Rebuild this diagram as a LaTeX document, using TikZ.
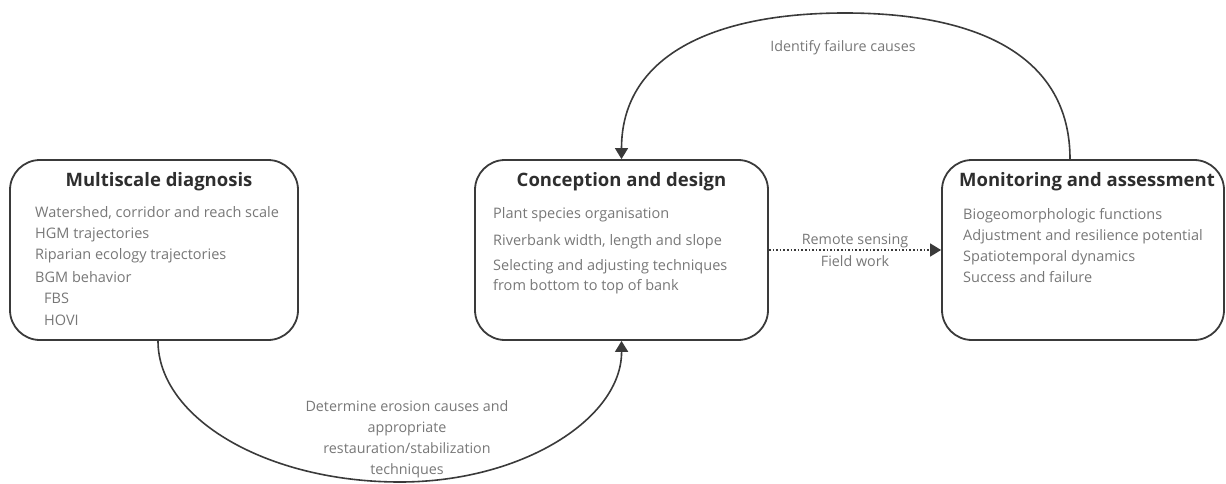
\documentclass[tikz,border=0pt]{standalone}
\usepackage{fontspec}
\setmainfont{Open Sans}
\usetikzlibrary{arrows.meta}
\usetikzlibrary{positioning}
\definecolor{linegray}{HTML}{3A3A3A}
\definecolor{textgray}{HTML}{777777}
\definecolor{titlegray}{HTML}{2E2E2E}
\tikzset{stage/.style = {draw = linegray, line width = 1.8pt, rounded corners = 30pt, minimum height = 180pt, inner sep = 0}}
\tikzset{heading/.style = {anchor = base, text = titlegray, font = \fontsize{18.5}{22}\selectfont\bfseries}}
\tikzset{items/.style = {anchor = base west, align = left, text = textgray, inner sep = 0, font = \fontsize{14.5}{21}\selectfont}}
\tikzset{note/.style = {align = center, text = textgray, inner sep = 0, font = \fontsize{14.3}{21}\selectfont}}
\tikzset{flow/.style = {draw = linegray, line width = 1.6pt, -{Triangle[width = 13pt, length = 11pt]}}}

\begin{document}
\begin{tikzpicture}[x = 1pt, y = -1pt]
      \useasboundingbox (0, 0) rectangle (1226, 484);
      \node [stage, minimum width = 288pt] (diag) at (154, 250) {};
      \node [stage, minimum width = 293pt] (design) at (621.5, 250) {};
      \node [stage, minimum width = 282pt] (monit) at (1083, 250) {};

      \node [heading, xshift = 5pt, yshift = -27pt] (diagtitle) at (diag.north) {Multiscale diagnosis};
      \node [heading, yshift = -27pt] (designtitle) at (design.north) {Conception and design};
      \node [heading, xshift = 4pt, yshift = -27pt] (monittitle) at (monit.north) {Monitoring and assessment};

      % base of the last line
      \node [items] (diagitems) at (35, 325) {Watershed, corridor and reach scale\\HGM trajectories\\Riparian ecology trajectories\\[2pt]BGM behavior\\\hspace*{9pt}FBS\\[1pt]\hspace*{9pt}HOVI};
      \node [items, font = \fontsize{14.5}{20}\selectfont] (designitems) at (493, 290) {Plant species organisation\\[7pt]Riverbank width, length and slope\\[5pt]Selecting and adjusting techniques\\from bottom to top of bank};
      \node [items] (monititems) at (963, 282) {Biogeomorphologic functions\\Adjustment and resilience potential\\Spatiotemporal dynamics\\Success and failure};

      \draw [flow, dotted] (design) -- node [note, font = \fontsize{14.3}{22}\selectfont] (fieldnote) {Remote sensing\\Field work} (monit);
      \draw [flow] ([xshift = 4pt]diag.south) .. controls (158, 418) and (266, 482) .. (400, 482)
            .. controls (523, 482) and (622, 418) .. (design.south);
      \draw [flow] ([xshift = -13pt]monit.north) .. controls (1070, 57) and (980, 13) .. (845, 13)
            .. controls (711, 13) and (621.5, 57) .. (design.north);

      \node [note] (erosionnote) at (407, 439.5) {Determine erosion causes and\\appropriate\\restauration/stabilization\\techniques};
      \node [note] (failnote) at (843, 48) {Identify failure causes};
    \end{tikzpicture}
\end{document}
